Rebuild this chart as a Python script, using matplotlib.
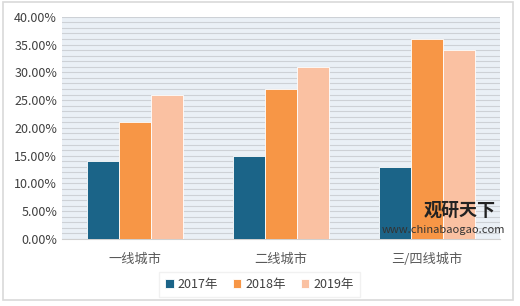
import matplotlib.pyplot as plt
import numpy as np
from matplotlib.ticker import FuncFormatter, MultipleLocator
from matplotlib.patches import Rectangle

plt.rcParams['font.family'] = ['Noto Sans CJK SC', 'DejaVu Sans']

# data
categories = ['一线城市', '二线城市', '三/四线城市']
years = ['2017年', '2018年', '2019年']
v2017 = [14, 15, 13]
v2018 = [21, 27, 36]
v2019 = [26, 31, 34]
colors = ['#1b6488', '#f79646', '#fac1a2']

fig = plt.figure(figsize=(5.2, 3.06), dpi=100)
fig.patch.set_facecolor('white')
# outer frame
fig.add_artist(Rectangle((0.006, 0.02), 0.98, 0.975, transform=fig.transFigure,
                         fill=False, edgecolor='#d9d9d9', lw=1.2))

ax = fig.add_axes([0.119, 0.219, 0.843, 0.726])
ax.set_facecolor('#eaf0f6')

x = np.arange(len(categories))
w = 0.22
for i, (vals, lab) in enumerate(zip([v2017, v2018, v2019], years)):
    ax.bar(x + (i - 1) * w, vals, w, color=colors[i], label=lab, zorder=3,
           edgecolor='white', linewidth=0.6)

ax.set_ylim(0, 40)
ax.set_xlim(-0.5, 2.5)
ax.yaxis.set_major_locator(MultipleLocator(5))
ax.yaxis.set_minor_locator(MultipleLocator(1))
ax.yaxis.set_major_formatter(FuncFormatter(lambda v, p: f'{v:.2f}%'))
ax.grid(axis='y', which='both', color='#cdd1d6', lw=0.8, zorder=0)
ax.set_axisbelow(True)
ax.tick_params(axis='y', which='both', length=0, labelsize=9, colors='#404040')
ax.tick_params(axis='x', length=0, labelsize=9.5, colors='#595959', pad=10)
ax.set_xticks(x)
ax.set_xticklabels(categories)
for s in ['top', 'right', 'left']:
    ax.spines[s].set_visible(False)
ax.spines['bottom'].set_color('#d0d0d0')

leg = ax.legend(loc='lower center', bbox_to_anchor=(0.45, -0.29), ncol=3,
                frameon=True, fontsize=9, handlelength=0.7, handleheight=0.7,
                handletextpad=0.3, columnspacing=1.2, borderpad=0.5,
                fancybox=False, shadow=False)
leg.get_frame().set_edgecolor('#eeeeee')
for t in leg.get_texts():
    t.set_color('#404040')

# watermark
fig.text(0.815, 0.295, '观研天下', fontsize=13, fontweight='bold', color='#222222')
fig.text(0.735, 0.238, 'www.chinabaogao.com', fontsize=8, color='#333333')

fig.savefig('out.png', dpi=100)
